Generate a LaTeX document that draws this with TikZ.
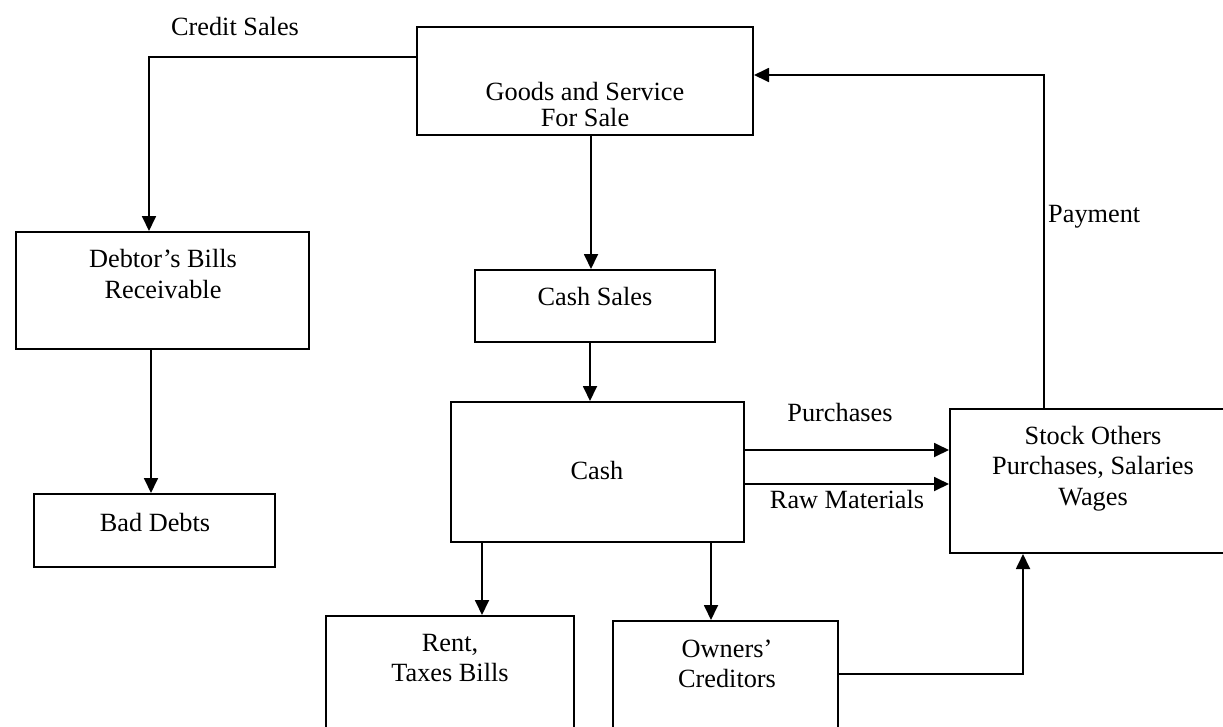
\documentclass[tikz,border=0pt]{standalone}
\usepackage{fontspec}
\setmainfont{Liberation Serif}
\usetikzlibrary{arrows.meta,positioning}
\tikzset{
  box/.style={draw, line width=2pt, inner sep=0pt},
  txt/.style={align=center, inner sep=0pt, anchor=base, font=\fontsize{26.3}{30}\selectfont},
  arr/.style={line width=1.8pt, -{Triangle[length=15pt,width=14pt]}},
  conn/.style={line width=1.8pt}
}
\begin{document}
\begin{tikzpicture}[x=1pt,y=-1pt]
\useasboundingbox (0,0) rectangle (1223,726);
\clip (0,0) rectangle (1223,726);
% boxes
\node[box, minimum width=336pt, minimum height=108pt] (goods) at (585,81) {};
\node[box, minimum width=293pt, minimum height=117pt] (debtor) at (162.5,290.5) {};
\node[box, minimum width=241pt, minimum height=73pt] (bad) at (154.5,530.5) {};
\node[box, minimum width=240pt, minimum height=72pt] (cashsales) at (595,306) {};
\node[box, minimum width=293pt, minimum height=140pt] (cash) at (597.5,472) {};
\node[box, minimum width=286pt, minimum height=144pt] (stock) at (1093,481) {};
\node[box, minimum width=248pt, minimum height=144pt] (rent) at (450,688) {};
\node[box, minimum width=225pt, minimum height=144pt] (owners) at (725.5,693) {};
% texts (base = last line)
\node[txt] (goodstxt) at (585,126) {Goods and Service\\[-4pt]For Sale};
\node[txt] (debtortxt) at (163,298) {Debtor’s Bills\\[1pt]Receivable};
\node[txt] (badtxt) at (155,531) {Bad Debts};
\node[txt] (cashsalestxt) at (595,305) {Cash Sales};
\node[txt] (cashtxt) at (597,479) {Cash};
\node[txt] (stocktxt) at (1093,505) {Stock Others\\[0.5pt]Purchases, Salaries\\[0.5pt]Wages};
\node[txt] (renttxt) at (450,681) {Rent,\\Taxes Bills};
\node[txt] (ownerstxt) at (727,687) {Owners’\\Creditors};
% labels
\node[txt] (creditlbl) at (235,35) {Credit Sales};
\node[txt, anchor=base west] (paymentlbl) at (1048,222) {Payment};
\node[txt] (purchaseslbl) at (840,421) {Purchases};
\node[txt] (rawlbl) at (847,508) {Raw Materials};
% connectors
\draw[arr] ([yshift=24pt]goods.west) -| (149,0 |- debtor.north);
\draw[arr] (151,0 |- debtor.south) -- (151,0 |- bad.north);
\draw[arr] (591,0 |- goods.south) -- (591,0 |- cashsales.north);
\draw[arr] (590,0 |- cashsales.south) -- (590,0 |- cash.north);
\draw[arr] (cash.east |- 0,450) -- (stock.west |- 0,450);
\draw[arr] (cash.east |- 0,484) -- (stock.west |- 0,484);
\draw[arr] (482,0 |- cash.south) -- (482,0 |- rent.north);
\draw[arr] (711,0 |- cash.south) -- (711,0 |- owners.north);
\draw[arr] (owners.east |- 0,674) -| (1023,0 |- stock.south);
\draw[arr] (1044,0 |- stock.north) |- (goods.east |- 0,75);
\end{tikzpicture}
\end{document}
